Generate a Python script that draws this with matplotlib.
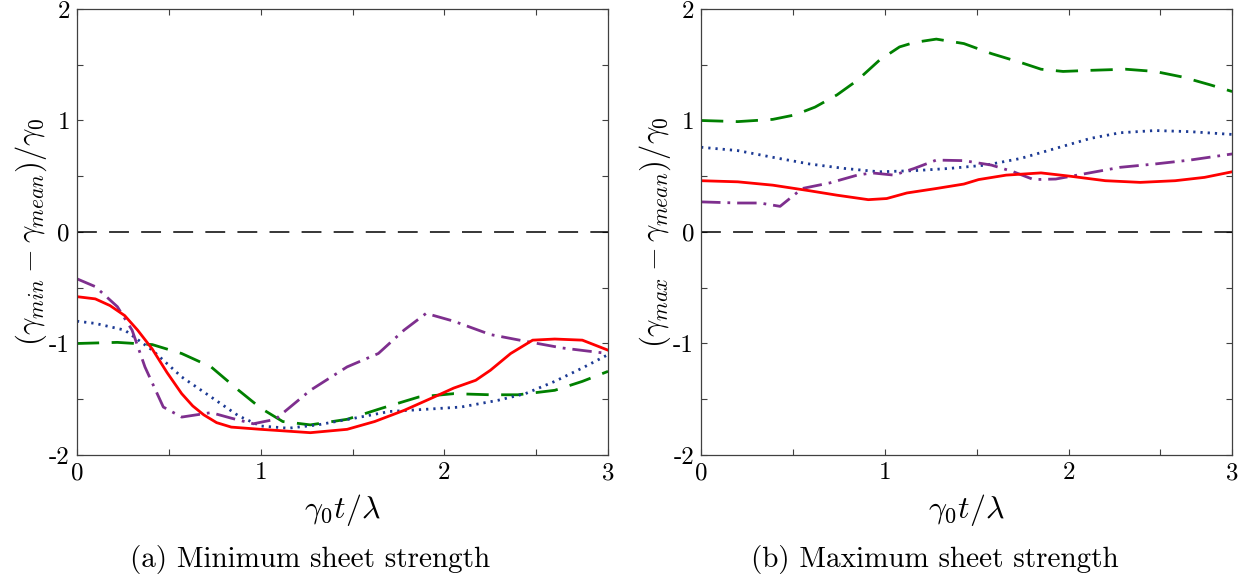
import numpy as np
import matplotlib.pyplot as plt

plt.rcParams['mathtext.fontset'] = 'cm'
plt.rcParams['font.family'] = 'cmr10'
plt.rcParams['axes.unicode_minus'] = False
plt.rcParams['axes.formatter.use_mathtext'] = True

XEND = 2.89

# (a) minimum sheet strength
red_min_x = [0, 0.10, 0.18, 0.26, 0.33, 0.41, 0.49, 0.57, 0.63, 0.69, 0.76, 0.84, 1.00, 1.27, 1.47, 1.62, 1.78, 1.93, 2.05, 2.17, 2.25, 2.36, 2.48, 2.60, 2.75, 2.89]
red_min_y = [-0.58, -0.60, -0.66, -0.75, -0.88, -1.05, -1.26, -1.45, -1.56, -1.64, -1.71, -1.75, -1.77, -1.80, -1.77, -1.70, -1.60, -1.49, -1.40, -1.33, -1.24, -1.09, -0.97, -0.96, -0.97, -1.06]

pur_min_x = [0, 0.10, 0.22, 0.30, 0.37, 0.47, 0.57, 0.73, 0.84, 0.96, 1.08, 1.27, 1.47, 1.64, 1.78, 1.90, 2.05, 2.25, 2.44, 2.64, 2.89]
pur_min_y = [-0.42, -0.49, -0.67, -0.88, -1.21, -1.57, -1.66, -1.62, -1.67, -1.72, -1.68, -1.42, -1.21, -1.09, -0.88, -0.73, -0.80, -0.92, -0.98, -1.04, -1.09]

blu_min_x = [0, 0.10, 0.26, 0.41, 0.57, 0.73, 0.88, 1.00, 1.15, 1.31, 1.51, 1.70, 1.90, 2.09, 2.29, 2.44, 2.60, 2.75, 2.89]
blu_min_y = [-0.80, -0.82, -0.88, -1.06, -1.30, -1.48, -1.65, -1.74, -1.76, -1.73, -1.67, -1.61, -1.59, -1.57, -1.51, -1.45, -1.34, -1.22, -1.10]

grn_min_x = [0, 0.22, 0.41, 0.57, 0.73, 0.88, 1.00, 1.12, 1.27, 1.47, 1.66, 1.86, 2.05, 2.25, 2.40, 2.60, 2.75, 2.89]
grn_min_y = [-1.00, -0.99, -1.01, -1.09, -1.21, -1.42, -1.58, -1.70, -1.73, -1.68, -1.58, -1.48, -1.45, -1.46, -1.46, -1.42, -1.34, -1.25]

# (b) maximum sheet strength
grn_max_x = [0, 0.20, 0.39, 0.51, 0.62, 0.74, 0.85, 0.97, 1.08, 1.16, 1.28, 1.43, 1.58, 1.74, 1.85, 1.97, 2.12, 2.31, 2.47, 2.62, 2.77, 2.89]
grn_max_y = [1.00, 0.99, 1.01, 1.05, 1.12, 1.23, 1.36, 1.54, 1.66, 1.70, 1.73, 1.69, 1.60, 1.52, 1.46, 1.44, 1.45, 1.46, 1.44, 1.39, 1.32, 1.26]

blu_max_x = [0, 0.20, 0.39, 0.59, 0.78, 0.97, 1.16, 1.35, 1.55, 1.74, 1.93, 2.12, 2.28, 2.47, 2.66, 2.89]
blu_max_y = [0.76, 0.73, 0.67, 0.61, 0.57, 0.54, 0.55, 0.57, 0.60, 0.66, 0.75, 0.84, 0.89, 0.91, 0.90, 0.875]

red_max_x = [0, 0.20, 0.39, 0.59, 0.74, 0.91, 1.01, 1.12, 1.28, 1.43, 1.51, 1.66, 1.85, 2.01, 2.20, 2.39, 2.58, 2.74, 2.89]
red_max_y = [0.46, 0.45, 0.42, 0.37, 0.33, 0.29, 0.30, 0.35, 0.39, 0.43, 0.47, 0.51, 0.53, 0.50, 0.46, 0.445, 0.46, 0.49, 0.54]

pur_max_x = [0, 0.20, 0.32, 0.43, 0.55, 0.70, 0.85, 0.93, 1.05, 1.16, 1.28, 1.43, 1.58, 1.70, 1.81, 1.93, 2.08, 2.28, 2.47, 2.66, 2.89]
pur_max_y = [0.27, 0.26, 0.26, 0.23, 0.39, 0.44, 0.51, 0.53, 0.51, 0.57, 0.645, 0.64, 0.60, 0.54, 0.47, 0.475, 0.52, 0.58, 0.61, 0.645, 0.70]

xtick_pos = [0, 0.5, 1, 1.5, 2, 2.5, XEND]
xtick_lab = ['0', '', '1', '', '2', '', '3']
ytick_pos = [-2, -1.5, -1, -0.5, 0, 0.5, 1, 1.5, 2]
ytick_lab = ['-2', '', '-1', '', '0', '', '1', '', '2']

red = '#ff0000'
green = '#008000'
blue = '#1c3a94'
purple = '#7e2f8e'

fig = plt.figure(figsize=(12.47, 5.81), dpi=100)
ax1 = fig.add_axes([0.0617, 0.2169, 0.4259, 0.7676])
ax2 = fig.add_axes([0.5622, 0.2169, 0.4259, 0.7676])


def style(ax, ylab):
    ax.axhline(0, color='k', lw=1.1, dashes=(13, 8))
    ax.set_xlim(0, XEND)
    ax.set_ylim(-2, 2)
    ax.set_xticks(xtick_pos)
    ax.set_xticklabels(xtick_lab)
    ax.set_yticks(ytick_pos)
    ax.set_yticklabels(ytick_lab)
    ax.tick_params(direction='in', top=True, right=True, length=4.5, width=0.8,
                   labelsize=18, color='0.25', pad=5)
    for s in ax.spines.values():
        s.set_color('0.25')
        s.set_linewidth(0.9)
    ax.set_xlabel(r'$\gamma_0 t/\lambda$', fontsize=23, labelpad=6)
    ax.set_ylabel(ylab, fontsize=22, labelpad=0)


ax1.plot(grn_min_x, grn_min_y, color=green, lw=2, dashes=(8, 4.5))
ax1.plot(blu_min_x, blu_min_y, color=blue, lw=2, dashes=(0.8, 1.8))
ax1.plot(pur_min_x, pur_min_y, color=purple, lw=2, dashes=(7, 2.5, 1, 2.5))
ax1.plot(red_min_x, red_min_y, color=red, lw=2)
style(ax1, r'$(\gamma_{min}-\gamma_{mean})/\gamma_0$')

ax2.plot(grn_max_x, grn_max_y, color=green, lw=2, dashes=(8, 4.5))
ax2.plot(blu_max_x, blu_max_y, color=blue, lw=2, dashes=(0.8, 1.8))
ax2.plot(pur_max_x, pur_max_y, color=purple, lw=2, dashes=(7, 2.5, 1, 2.5))
ax2.plot(red_max_x, red_max_y, color=red, lw=2)
style(ax2, r'$(\gamma_{max}-\gamma_{mean})/\gamma_0$')

fig.text(0.2486, 0.0241, '(a) Minimum sheet strength', ha='center', va='baseline', fontsize=21)
fig.text(0.7494, 0.0241, '(b) Maximum sheet strength', ha='center', va='baseline', fontsize=21)

fig.savefig('out.png', dpi=100)
